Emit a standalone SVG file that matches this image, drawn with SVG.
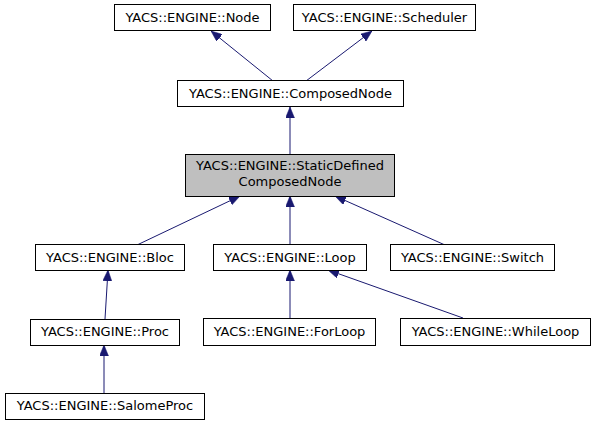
<svg xmlns="http://www.w3.org/2000/svg" width="595" height="425" viewBox="0 0 595 425">
<style>
.n rect{fill:#fff;stroke:#000;stroke-width:1}
.n.h rect{fill:#bfbfbf}
.n text{font-family:"DejaVu Sans",sans-serif;font-size:13px;text-anchor:middle;fill:#000}
.e path{fill:none;stroke:#191970;stroke-width:1;marker-end:url(#a)}
</style>
<defs>
<marker id="a" markerUnits="userSpaceOnUse" markerWidth="11" markerHeight="9" refX="11" refY="4.5" orient="auto" viewBox="0 0 11 9">
<path d="M0,0 L11,4.5 L0,9 z" fill="#191970" stroke="#191970" stroke-width="0.5"/>
</marker>
</defs>
<rect width="595" height="425" fill="#fff"/>
<g class="e" id="edges">
<path d="M273,81 L211,31"/>
<path d="M306,81 L372,31"/>
<path d="M290,154 L290,107"/>
<path d="M137,245 L240,196"/>
<path d="M290,244 L290,196"/>
<path d="M445,245 L335,196"/>
<path d="M105,319 L108,270"/>
<path d="M104,393 L104,345"/>
<path d="M290,318 L290,270"/>
<path d="M463,318 L328,270"/>
</g>
<g class="n" id="node"><rect x="114.5" y="4.5" width="156" height="26"/><text x="192.5" y="22">YACS::ENGINE::Node</text></g>
<g class="n" id="scheduler"><rect x="293.5" y="4.5" width="182" height="26"/><text x="384.5" y="22">YACS::ENGINE::Scheduler</text></g>
<g class="n" id="composednode"><rect x="177.5" y="80.5" width="226" height="26"/><text x="290.5" y="98">YACS::ENGINE::ComposedNode</text></g>
<g class="n h" id="staticdefined"><rect x="185.5" y="154.5" width="209" height="42"/><text x="290" y="170">YACS::ENGINE::StaticDefined</text><text x="290" y="186">ComposedNode</text></g>
<g class="n" id="bloc"><rect x="35.5" y="244.5" width="149" height="26"/><text x="110" y="262">YACS::ENGINE::Bloc</text></g>
<g class="n" id="loop"><rect x="213.5" y="244.5" width="153" height="26"/><text x="290" y="262">YACS::ENGINE::Loop</text></g>
<g class="n" id="switch"><rect x="390.5" y="244.5" width="164" height="26"/><text x="472.5" y="262">YACS::ENGINE::Switch</text></g>
<g class="n" id="proc"><rect x="30.5" y="319.5" width="149" height="26"/><text x="105" y="336">YACS::ENGINE::Proc</text></g>
<g class="n" id="forloop"><rect x="203.5" y="318.5" width="172" height="27"/><text x="289.5" y="336">YACS::ENGINE::ForLoop</text></g>
<g class="n" id="whileloop"><rect x="400.5" y="318.5" width="190" height="27"/><text x="495.5" y="336">YACS::ENGINE::WhileLoop</text></g>
<g class="n" id="salomeproc"><rect x="5.5" y="393.5" width="199" height="26"/><text x="105" y="410">YACS::ENGINE::SalomeProc</text></g>
</svg>
